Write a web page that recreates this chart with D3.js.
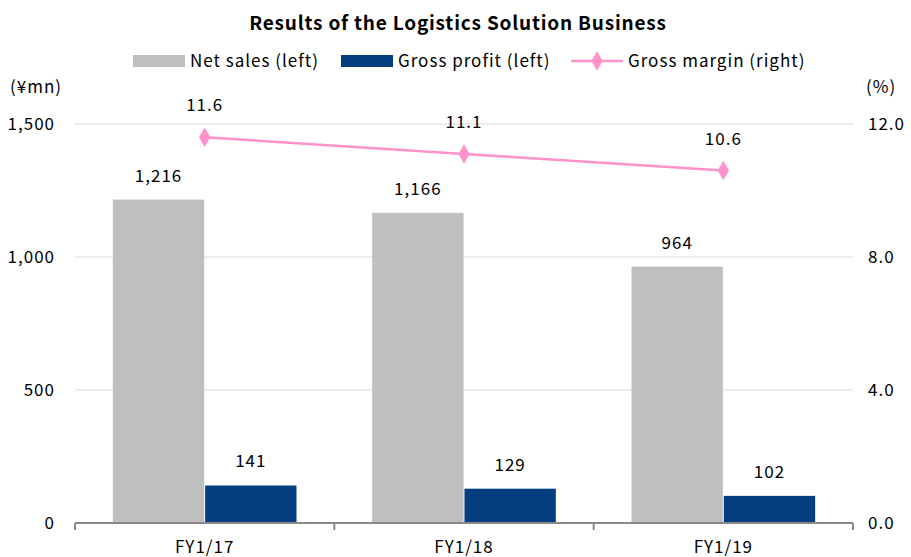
<!DOCTYPE html>
<html lang="en">
<head>
  <meta charset="UTF-8">
  <title>Results of the Logistics Solution Business</title>
  <style>
    body { margin: 0; background: #fff; }
    svg text { font-family: "Noto Sans CJK JP", "Noto Sans", sans-serif; fill: #000; letter-spacing: 1px; }
    .grid line { stroke: #d9d9d9; stroke-width: 1px; }
  </style>
</head>
<body>
  <script src="https://d3js.org/d3.v7.min.js"></script>
  <script>
    const categories = ["FY1/17", "FY1/18", "FY1/19"];
    const netSales = [1216, 1166, 964];
    const grossProfit = [141, 129, 102];
    const grossMargin = [11.6, 11.1, 10.6];
    const leftTicks = [0, 500, 1000, 1500];
    const rightTicks = [0, 4, 8, 12];

    const width = 911, height = 557;
    const margin = {top: 124, right: 58, bottom: 34, left: 75};
    const plotW = width - margin.left - margin.right;
    const plotH = height - margin.top - margin.bottom;
    const fs = "17px";

    const svg = d3.select("body").append("svg").attr("width", width).attr("height", height);
    const g = svg.append("g").attr("transform", `translate(${margin.left},${margin.top})`);

    const x = d3.scaleBand().domain(categories).range([0, plotW]).paddingInner(0).paddingOuter(0);
    const sub = d3.scaleBand().domain(["sales", "profit"]).range([0, x.bandwidth()]).paddingOuter(0.41).paddingInner(0.01);
    const yL = d3.scaleLinear().domain([0, 1500]).range([plotH, 0]);
    const yR = d3.scaleLinear().domain([0, 12]).range([plotH, 0]);

    // gridlines
    g.append("g").attr("class", "grid")
      .selectAll("line").data(leftTicks.filter(d => d > 0)).enter().append("line")
      .attr("x1", 0).attr("x2", plotW)
      .attr("y1", d => yL(d)).attr("y2", d => yL(d));

    // left axis labels
    g.append("g").selectAll("text").data(leftTicks).enter().append("text")
      .attr("x", -20).attr("y", d => yL(d)).attr("dy", "0.35em")
      .attr("text-anchor", "end").attr("font-size", fs)
      .text(d => d3.format(",")(d));

    // right axis labels
    g.append("g").selectAll("text").data(rightTicks).enter().append("text")
      .attr("x", plotW + 15).attr("y", d => yR(d)).attr("dy", "0.35em")
      .attr("text-anchor", "start").attr("font-size", fs)
      .text(d => d.toFixed(1));

    // bars
    const cat = g.append("g").selectAll("g").data(categories).enter().append("g")
      .attr("transform", d => `translate(${x(d)},0)`);

    cat.append("rect")
      .attr("x", sub("sales")).attr("width", sub.bandwidth())
      .attr("y", (d, i) => yL(netSales[i])).attr("height", (d, i) => plotH - yL(netSales[i]))
      .attr("fill", "#bfbfbf");
    cat.append("rect")
      .attr("x", sub("profit")).attr("width", sub.bandwidth())
      .attr("y", (d, i) => yL(grossProfit[i])).attr("height", (d, i) => plotH - yL(grossProfit[i]))
      .attr("fill", "#043e80");

    cat.append("text")
      .attr("x", sub("sales") + sub.bandwidth() / 2).attr("y", (d, i) => yL(netSales[i]) - 18)
      .attr("text-anchor", "middle").attr("font-size", fs)
      .text((d, i) => d3.format(",")(netSales[i]));
    cat.append("text")
      .attr("x", sub("profit") + sub.bandwidth() / 2).attr("y", (d, i) => yL(grossProfit[i]) - 18)
      .attr("text-anchor", "middle").attr("font-size", fs)
      .text((d, i) => d3.format(",")(grossProfit[i]));

    // x axis
    const ax = g.append("g").attr("transform", `translate(0,${plotH})`);
    ax.append("line").attr("x1", 0).attr("x2", plotW).attr("y1", 0).attr("y2", 0)
      .attr("stroke", "#898989").attr("stroke-width", 2);
    ax.selectAll(".tick").data(d3.range(categories.length + 1)).enter().append("line")
      .attr("x1", i => i * x.step()).attr("x2", i => i * x.step())
      .attr("y1", 0).attr("y2", 7).attr("stroke", "#898989").attr("stroke-width", 2);
    ax.selectAll("text").data(categories).enter().append("text")
      .attr("x", d => x(d) + x.bandwidth() / 2).attr("y", 30)
      .attr("text-anchor", "middle").attr("font-size", fs).text(d => d);

    // line
    const cx = d => x(d) + x.bandwidth() / 2;
    const line = d3.line().x((d, i) => cx(categories[i])).y(d => yR(d));
    g.append("path").datum(grossMargin).attr("d", line)
      .attr("fill", "none").attr("stroke", "#ff92cb").attr("stroke-width", 2.5);
    const diamond = d3.symbol().type(d3.symbolDiamond).size(110);
    g.append("g").selectAll("path").data(grossMargin).enter().append("path")
      .attr("d", diamond)
      .attr("transform", (d, i) => `translate(${cx(categories[i])},${yR(d)})`)
      .attr("fill", "#ff92cb");
    g.append("g").selectAll("text").data(grossMargin).enter().append("text")
      .attr("x", (d, i) => cx(categories[i])).attr("y", d => yR(d) - 26)
      .attr("text-anchor", "middle").attr("font-size", fs)
      .text(d => d.toFixed(1));

    // title
    svg.append("text").attr("x", 458).attr("y", 30)
      .attr("text-anchor", "middle").attr("font-size", "19px").attr("font-weight", "bold")
      .style("letter-spacing", "0.8px")
      .text("Results of the Logistics Solution Business");

    // axis titles
    svg.append("text").attr("x", 10).attr("y", 93).attr("font-size", fs).text("(¥mn)");
    svg.append("text").attr("x", 866).attr("y", 93).attr("font-size", fs).text("(%)");

    // legend
    const legend = svg.append("g").attr("transform", "translate(0,61)");
    legend.append("rect").attr("x", 133).attr("y", -6).attr("width", 52).attr("height", 12).attr("fill", "#bfbfbf");
    legend.append("text").attr("x", 190).attr("dy", "0.35em").attr("font-size", fs).text("Net sales (left)");
    legend.append("rect").attr("x", 341).attr("y", -6).attr("width", 52).attr("height", 12).attr("fill", "#043e80");
    legend.append("text").attr("x", 398).attr("dy", "0.35em").attr("font-size", fs).text("Gross profit (left)");
    legend.append("line").attr("x1", 571).attr("x2", 623).attr("stroke", "#ff92cb").attr("stroke-width", 2.5);
    legend.append("path").attr("d", diamond).attr("transform", "translate(597,0)").attr("fill", "#ff92cb");
    legend.append("text").attr("x", 628).attr("dy", "0.35em").attr("font-size", fs).text("Gross margin (right)");
  </script>
</body>
</html>
